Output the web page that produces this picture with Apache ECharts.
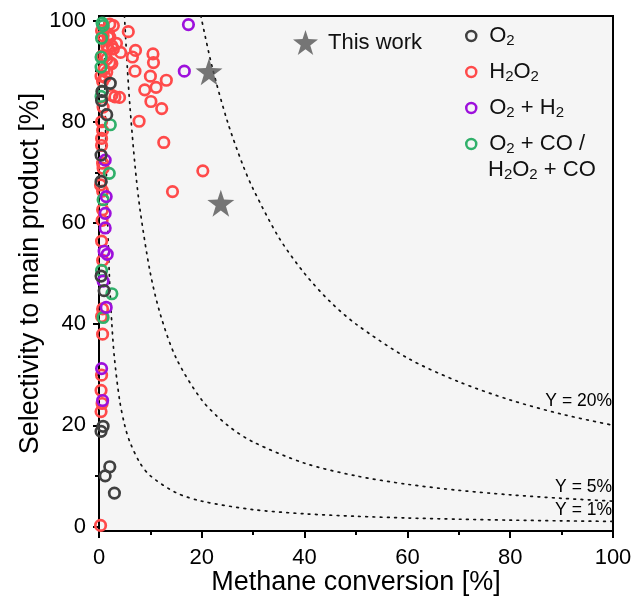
<!DOCTYPE html>
<html>
<head>
<meta charset="utf-8">
<script src="https://cdn.jsdelivr.net/npm/echarts@6/dist/echarts.min.js"></script>
<style>
html,body{margin:0;padding:0;background:#fff;}
#chart{width:637px;height:601px;}
</style>
</head>
<body>
<div id="chart"></div>
<script>
// ---- data ----
var xTicks = [0, 20, 40, 60, 80, 100];
var yTicks = [0, 20, 40, 60, 80, 100];
var yMinorTicks = [10, 30, 50, 70, 90];

// [methane conversion %, selectivity %]
var dataO2 = [
  [2.2, 87.6], [0.6, 86.0], [0.5, 84.2], [1.5, 81.4], [0.4, 73.4], [0.4, 68.2],
  [0.4, 49.5], [1.0, 46.6], [0.8, 19.8], [0.4, 18.8], [2.1, 11.8], [1.2, 10.0], [3.0, 6.6]
];
var dataH2O2 = [
  [2.1, 99.3], [2.8, 99.0], [5.7, 97.8], [1.9, 97.2], [2.1, 96.7], [1.8, 96.7], [3.4, 95.5],
  [2.5, 95.0], [1.5, 95.0], [2.8, 94.4], [1.8, 94.4], [4.2, 93.7], [7.1, 94.1], [1.2, 93.0],
  [6.5, 92.8], [10.5, 93.4], [1.5, 92.4], [2.5, 91.5], [2.1, 91.7], [10.6, 91.7], [1.0, 90.4],
  [7.0, 90.0], [1.5, 89.8], [10.0, 89.0], [1.2, 88.8], [13.1, 88.2], [8.9, 86.3], [11.1, 86.8],
  [4.0, 84.8], [3.1, 84.9], [2.5, 85.2], [10.1, 84.0], [12.2, 82.6], [0.8, 82.9], [7.8, 80.1],
  [0.7, 78.3], [0.5, 76.7], [12.6, 75.9], [0.5, 75.3], [0.7, 71.8], [0.8, 70.8], [20.2, 70.3],
  [0.3, 67.5], [0.7, 66.3], [14.3, 66.2], [0.7, 62.6], [0.6, 60.5], [0.5, 56.4], [0.7, 52.6],
  [0.7, 43.0], [0.5, 41.5], [0.7, 38.0], [0.5, 29.9], [0.4, 26.9], [0.6, 24.3], [0.4, 22.7],
  [0.3, 0.2], [0.5, 98.0], [0.8, 97.0], [0.6, 93.0], [0.4, 89.0], [0.7, 88.0], [0.5, 80.0]
];
var dataO2H2 = [
  [17.4, 99.2], [16.6, 90.0], [1.2, 72.4], [1.4, 65.2], [1.2, 61.9], [1.2, 59.0], [1.0, 54.4],
  [1.6, 53.8], [0.8, 48.5], [1.4, 43.3], [0.5, 31.2], [0.7, 24.9]
];
var dataO2CO = [
  [0.6, 99.5], [0.8, 99.0], [0.5, 96.5], [0.4, 92.8], [0.4, 90.8], [0.6, 86.0], [0.4, 85.0],
  [2.2, 79.4], [2.0, 69.8], [0.8, 64.6], [0.5, 50.6], [2.5, 46.0], [0.8, 41.3]
];
var dataThisWork = [[21.4, 89.9], [23.7, 63.9]];

// iso-yield reference curves (conversion, selectivity)
var curveY20 = [[19.8,101],[20,100],[22,90.9],[25,80],[28,71.4],[30,66.7],[35,57.1],[40,50],[45,44.4],[50,40],[60,33.3],[70,28.6],[80,25],[90,22.2],[100,20]];
var curveY5 = [[4.95,101],[5,100],[5.5,90.9],[6,83.3],[7,71.4],[8,62.5],[10,50],[12,41.7],[15,33.3],[20,25],[25,20],[30,16.7],[40,12.5],[50,10],[60,8.33],[70,7.14],[80,6.25],[90,5.56],[100,5]];
var curveY1 = [[0.99,101],[1,100],[1.1,90.9],[1.25,80],[1.5,66.7],[2,50],[2.5,40],[3,33.3],[4,25],[5,20],[6,16.7],[8,12.5],[10,10],[15,6.67],[20,5],[30,3.33],[40,2.5],[50,2],[60,1.67],[70,1.43],[80,1.25],[90,1.11],[100,1]];

var curveLabels = ['Y = 20%', 'Y = 5%', 'Y = 1%'];
var legendNames = ['O2', 'H2O2', 'O2+H2', 'O2+CO'];

// ---- chart ----
var FONT = '"Liberation Sans", Arial, sans-serif';
var chart = echarts.init(document.getElementById('chart'), null, {renderer: 'canvas'});

var legendFormat = {
  'O2': '{n|O}{s|2}',
  'H2O2': '{n|H}{s|2}{n|O}{s|2}',
  'O2+H2': '{n|O}{s|2}{n| + H}{s|2}',
  'O2+CO': '{n|O}{s|2}{n| + CO /}'
};
var richN = {fontFamily: FONT, fontSize: 22, color: '#111', lineHeight: 24};
var richS = {fontFamily: FONT, fontSize: 15, color: '#111', lineHeight: 24, padding: [9, 0, 0, 0]};

function curveSeries(data) {
  return {
    type: 'line', data: data, smooth: 0.3, showSymbol: false, symbol: 'none', silent: true, z: 1,
    lineStyle: {color: '#111', width: 1.7, type: [1.7, 5.5], cap: 'round'}
  };
}
function scatterSeries(name, data, color, z) {
  return {
    name: name, type: 'scatter', data: data, symbol: 'circle', symbolSize: 10.5, z: z,
    itemStyle: {color: 'rgba(0,0,0,0)', borderColor: color, borderWidth: 2.7, opacity: 1}
  };
}

var option = {
  backgroundColor: '#fff',
  animation: false,
  grid: {left: 99, right: 24, top: 16, bottom: 70, show: true, backgroundColor: '#f5f5f5', borderColor: '#000', borderWidth: 2},
  xAxis: {
    type: 'value', min: 0, max: 100, interval: 20,
    name: 'Methane conversion [%]', nameLocation: 'middle', nameGap: 38, nameMoveOverlap: false,
    nameTextStyle: {fontFamily: FONT, fontSize: 27, color: '#000'},
    axisLine: {show: true, onZero: false, lineStyle: {color: '#000', width: 2}},
    axisTick: {show: true, inside: false, length: 7, lineStyle: {color: '#000', width: 2}},
    minorTick: {show: true, splitNumber: 2, length: 4, lineStyle: {color: '#000', width: 2}},
    axisLabel: {fontFamily: FONT, fontSize: 22, color: '#000', margin: 16},
    splitLine: {show: false}
  },
  yAxis: [{
    type: 'value', min: -0.9, max: 100.9,
    name: 'Selectivity to main product [%]', nameLocation: 'middle', nameGap: 55, nameMoveOverlap: false,
    nameTextStyle: {fontFamily: FONT, fontSize: 27, color: '#000'},
    axisLine: {show: true, onZero: false, lineStyle: {color: '#000', width: 2}},
    axisTick: {show: true, length: 6, customValues: yTicks, lineStyle: {color: '#000', width: 2}},
    axisLabel: {fontFamily: FONT, fontSize: 22, color: '#000', margin: 13, customValues: yTicks},
    splitLine: {show: false}
  }, {
    type: 'value', min: -0.9, max: 100.9, position: 'left',
    axisLine: {show: false},
    axisTick: {show: true, length: 4, customValues: yMinorTicks, lineStyle: {color: '#000', width: 2}},
    axisLabel: {show: false},
    splitLine: {show: false}
  }],
  legend: [{
    data: ['This work'], left: 288, top: 25, itemWidth: 25, itemHeight: 25,
    textStyle: {fontFamily: FONT, fontSize: 22, color: '#111', padding: [0, 0, 0, 5]}
  }, {
    data: legendNames, orient: 'vertical', left: 460, top: 19, itemWidth: 10, itemHeight: 10, itemGap: 12,
    itemStyle: {borderWidth: 2.5},
    formatter: function (n) { return legendFormat[n]; },
    textStyle: {fontFamily: FONT, fontSize: 22, color: '#111', padding: [0, 0, 0, 8], rich: {n: richN, s: richS}}
  }],
  graphic: [
    {type: 'text', left: 488, top: 158, style: {rich: {
      n: {fontFamily: FONT, fontSize: 22, fill: '#111', lineHeight: 24},
      s: {fontFamily: FONT, fontSize: 15, fill: '#111', lineHeight: 24, padding: [9, 0, 0, 0]}
    }, text: '{n|H}{s|2}{n|O}{s|2}{n| + CO}'}},
    {type: 'text', right: 25, top: 392, style: {text: curveLabels[0], font: '17.5px ' + FONT, fill: '#000'}},
    {type: 'text', right: 25, top: 478, style: {text: curveLabels[1], font: '17.5px ' + FONT, fill: '#000'}},
    {type: 'text', right: 25, top: 501, style: {text: curveLabels[2], font: '17.5px ' + FONT, fill: '#000'}}
  ],
  series: [
    curveSeries(curveY20),
    curveSeries(curveY5),
    curveSeries(curveY1),
    scatterSeries('H2O2', dataH2O2, '#ff4a4a', 3),
    scatterSeries('O2+CO', dataO2CO, '#30b06a', 4),
    scatterSeries('O2+H2', dataO2H2, '#9d10dc', 5),
    scatterSeries('O2', dataO2, '#404040', 6),
    {name: 'This work', type: 'scatter', data: dataThisWork, symbol: 'path://M50,0 L61.8,36.2 L100,38.2 L69.1,61.8 L80.9,100 L50,77 L19.1,100 L30.9,61.8 L0,38.2 L38.2,36.2 Z',
     symbolSize: 27, z: 7, itemStyle: {color: '#555'}}
  ]
};
chart.setOption(option);
</script>
</body>
</html>
